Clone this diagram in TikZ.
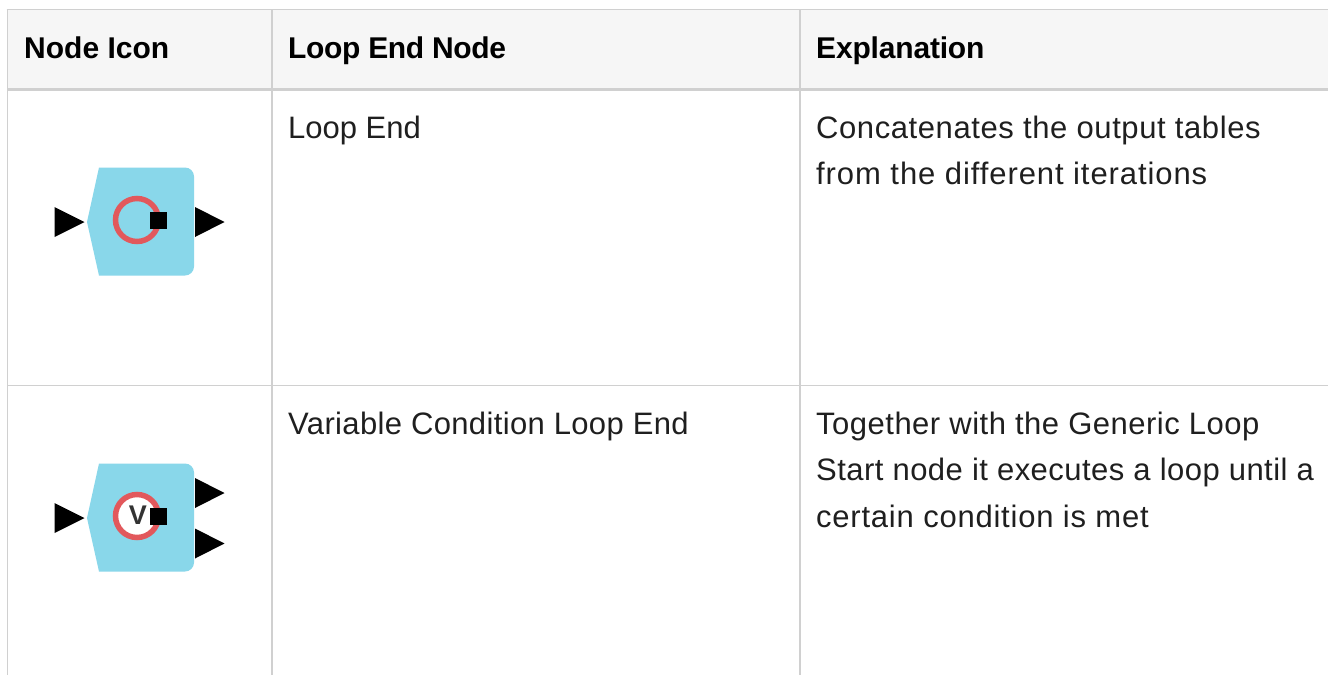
\documentclass[tikz,border=0pt]{standalone}
\usepackage{fontspec}
\setmainfont{Liberation Sans}
\definecolor{rulec}{RGB}{208,208,208}
\definecolor{headbg}{RGB}{246,246,246}
\definecolor{nodeblue}{RGB}{137,215,234}
\definecolor{ringred}{RGB}{226,88,92}
\newcommand{\ls}[1]{\addfontfeature{LetterSpace=#1}}
\tikzset{
  x=1pt,y=-1pt,
  cell/.style={anchor=base west,inner sep=0pt,font=\fontsize{31}{46}\selectfont,text=black!88},
  headcell/.style={anchor=base west,inner sep=0pt,font=\fontsize{30}{46}\selectfont\bfseries,text=black},
  gridline/.style={draw=rulec,line width=1.8pt},
  porttip/.style={fill=black,draw=none},
  ring/.style={draw=ringred,line width=5.5pt},
}
\newcommand{\kicon}[2]{%
  \begin{scope}[shift={(#1,#2)}]
    \path[fill=nodeblue] (12,-54.5) -- (98,-54.5) .. controls (103,-54.5) and (107,-50.5) .. (107,-45.5)
      -- (107,44.5) .. controls (107,49.5) and (103,53.5) .. (98,53.5) -- (12,53.5) -- (0,0) -- cycle;
  \end{scope}}
\begin{document}
\begin{tikzpicture}
\useasboundingbox (0,0) rectangle (1328,675);
\fill[white] (0,0) rectangle (1328,675);
\fill[headbg] (7,10) rectangle (1328,88);
\draw[gridline] (6.6,9.5) -- (1328,9.5);
\draw[gridline] (7.5,9.5) -- (7.5,675);
\draw[gridline] (271.8,9.5) -- (271.8,675);
\draw[gridline] (799.8,9.5) -- (799.8,675);
\draw[draw=rulec,line width=3.2pt] (7,89.5) -- (1328,89.5);
\draw[gridline] (7,385.5) -- (1328,385.5);

\node[headcell] (h1) at (24,58) {Node Icon};
\node[headcell] (h2) at (288,58) {\ls{-1.3}Loop End Node};
\node[headcell] (h3) at (816,58) {\ls{-0.6}Explanation};
\node[cell] (a1) at (288,138) {Loop End};
\node[cell] (a2) at (816,138) {\ls{1.9}Concatenates the output tables};
\node[cell] (a3) at (816,184) {\ls{2.95}from the different iterations};
\node[cell] (b1) at (288,434) {\ls{1.15}Variable Condition Loop End};
\node[cell] (b2) at (816,434) {\ls{1.6}Together with the Generic Loop};
\node[cell] (b3) at (816,480) {\ls{1.5}Start node it executes a loop until a};
\node[cell] (b4) at (816,527) {\ls{2.5}certain condition is met};

% first icon
\kicon{87}{222}
\draw[ring] (137,220) circle (21.5);
\fill[black] (150,212) rectangle (167,228.5);
\path[porttip] (54.5,207) -- (84.5,222) -- (54.5,237) -- cycle;
\path[porttip] (195,207) -- (224.5,222) -- (195,237) -- cycle;

% second icon
\kicon{87}{518}
\draw[ring,fill=white] (137,516) circle (21.5);
\node[inner sep=0pt,font=\fontsize{27}{27}\selectfont\bfseries,text=black!80] (v) at (138,515.5) {V};
\fill[black] (150,508) rectangle (167,524.5);
\path[porttip] (54.5,503) -- (84.5,518) -- (54.5,533) -- cycle;
\path[porttip] (195,478) -- (224.5,493) -- (195,508) -- cycle;
\path[porttip] (195,528.5) -- (224.5,543.5) -- (195,558.5) -- cycle;
\end{tikzpicture}
\end{document}
